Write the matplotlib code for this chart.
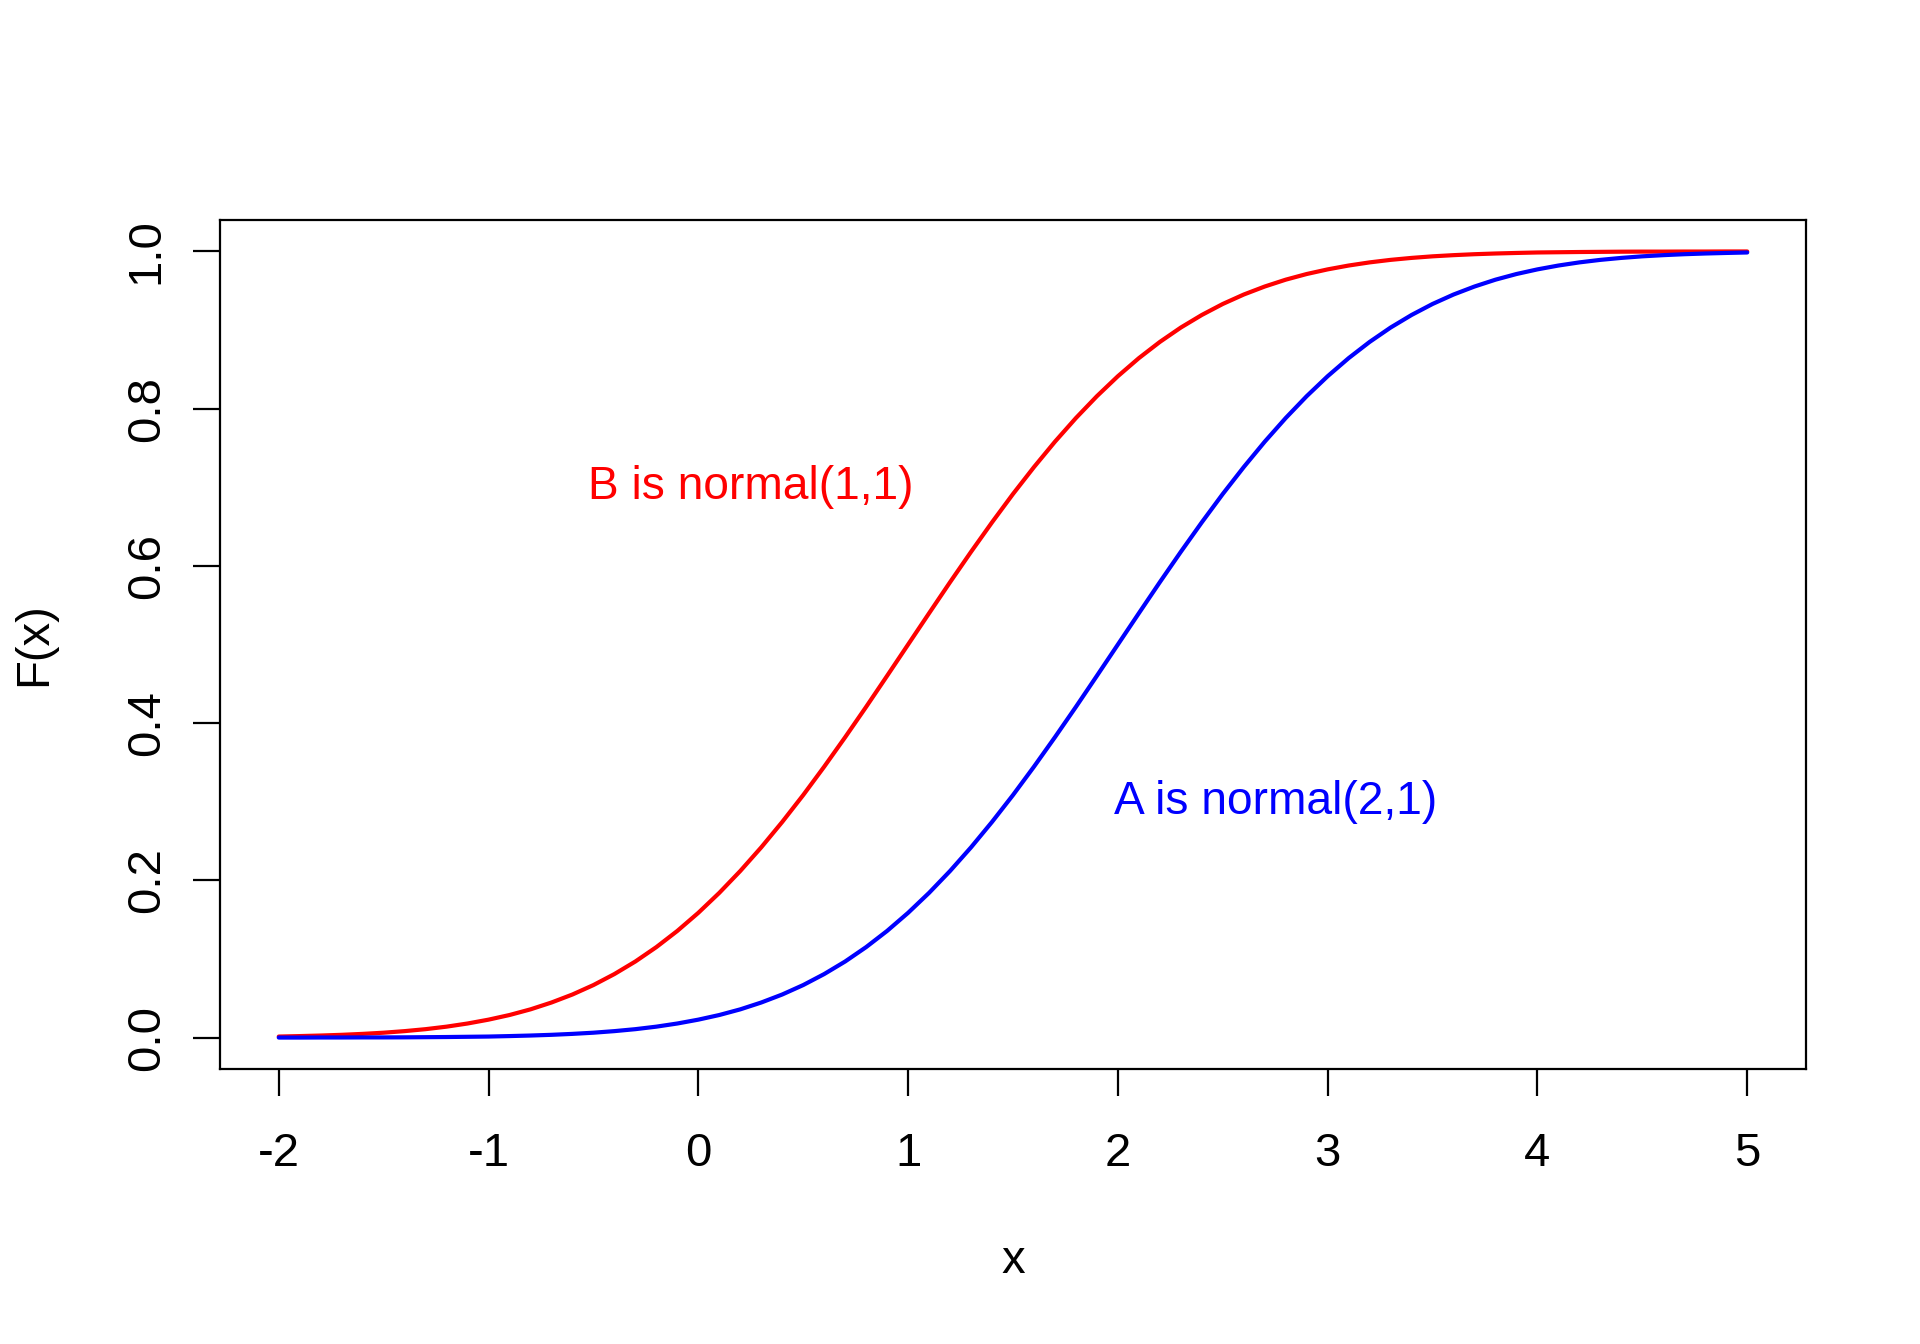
import numpy as np
import matplotlib.pyplot as plt

plt.rcParams['font.family'] = ['Liberation Sans', 'DejaVu Sans']

# x grid, step 0.1 from -2 to 5
x = np.round(np.arange(-2, 5.001, 0.1), 1)

# F(x)
F_B = [0.0013, 0.0019, 0.0026, 0.0035, 0.0047, 0.0062, 0.0082, 0.0107, 0.0139, 0.0179,
       0.0228, 0.0287, 0.0359, 0.0446, 0.0548, 0.0668, 0.0808, 0.0968, 0.1151, 0.1357,
       0.1587, 0.1841, 0.2119, 0.2420, 0.2743, 0.3085, 0.3446, 0.3821, 0.4207, 0.4602,
       0.5000, 0.5398, 0.5793, 0.6179, 0.6554, 0.6915, 0.7257, 0.7580, 0.7881, 0.8159,
       0.8413, 0.8643, 0.8849, 0.9032, 0.9192, 0.9332, 0.9452, 0.9554, 0.9641, 0.9713,
       0.9772, 0.9821, 0.9861, 0.9893, 0.9918, 0.9938, 0.9953, 0.9965, 0.9974, 0.9981,
       0.9987, 0.9990, 0.9993, 0.9995, 0.9997, 0.9998, 0.9998, 0.9999, 0.9999, 1.0000,
       1.0000]
F_A = [0.0000, 0.0000, 0.0001, 0.0001, 0.0002, 0.0002, 0.0003, 0.0005, 0.0007, 0.0010,
       0.0013, 0.0019, 0.0026, 0.0035, 0.0047, 0.0062, 0.0082, 0.0107, 0.0139, 0.0179,
       0.0228, 0.0287, 0.0359, 0.0446, 0.0548, 0.0668, 0.0808, 0.0968, 0.1151, 0.1357,
       0.1587, 0.1841, 0.2119, 0.2420, 0.2743, 0.3085, 0.3446, 0.3821, 0.4207, 0.4602,
       0.5000, 0.5398, 0.5793, 0.6179, 0.6554, 0.6915, 0.7257, 0.7580, 0.7881, 0.8159,
       0.8413, 0.8643, 0.8849, 0.9032, 0.9192, 0.9332, 0.9452, 0.9554, 0.9641, 0.9713,
       0.9772, 0.9821, 0.9861, 0.9893, 0.9918, 0.9938, 0.9953, 0.9965, 0.9974, 0.9981,
       0.9987]

xticks = [-2, -1, 0, 1, 2, 3, 4, 5]
yticks = [0.0, 0.2, 0.4, 0.6, 0.8, 1.0]
ytick_labels = ['0.0', '0.2', '0.4', '0.6', '0.8', '1.0']

fs = 17

fig = plt.figure(figsize=(9.6, 6.72), dpi=200)
ax = fig.add_axes([0.1146, 0.2046, 0.9406 - 0.1146, 0.8363 - 0.2046])

ax.plot(x, F_B, color='red', lw=1.5, solid_capstyle='round')
ax.plot(x, F_A, color='blue', lw=1.5, solid_capstyle='round')

ax.text(0.25, 0.70, 'B is normal(1,1)', color='red', fontsize=16.6, ha='center', va='center')
ax.text(2.75, 0.30, 'A is normal(2,1)', color='blue', fontsize=16.6, ha='center', va='center')

ax.set_xlim(-2.28, 5.28)
ax.set_ylim(-0.04, 1.04)
ax.set_xticks(xticks)
ax.set_xticklabels([str(t) for t in xticks])
ax.set_yticks(yticks)
ax.set_yticklabels(ytick_labels, rotation=90, va='center')

for s in ax.spines.values():
    s.set_linewidth(0.8)
ax.tick_params(direction='out', length=9.7, width=0.8, labelsize=fs)
ax.tick_params(axis='x', pad=13)
ax.tick_params(axis='y', pad=8.8)

fig.text(0.5276, 0.0618, 'x', fontsize=fs, ha='center', va='center')
fig.text(0.0177, 0.5205, 'F(x)', fontsize=fs, ha='center', va='center', rotation=90)

fig.savefig('out.png', dpi=200, facecolor='white')
